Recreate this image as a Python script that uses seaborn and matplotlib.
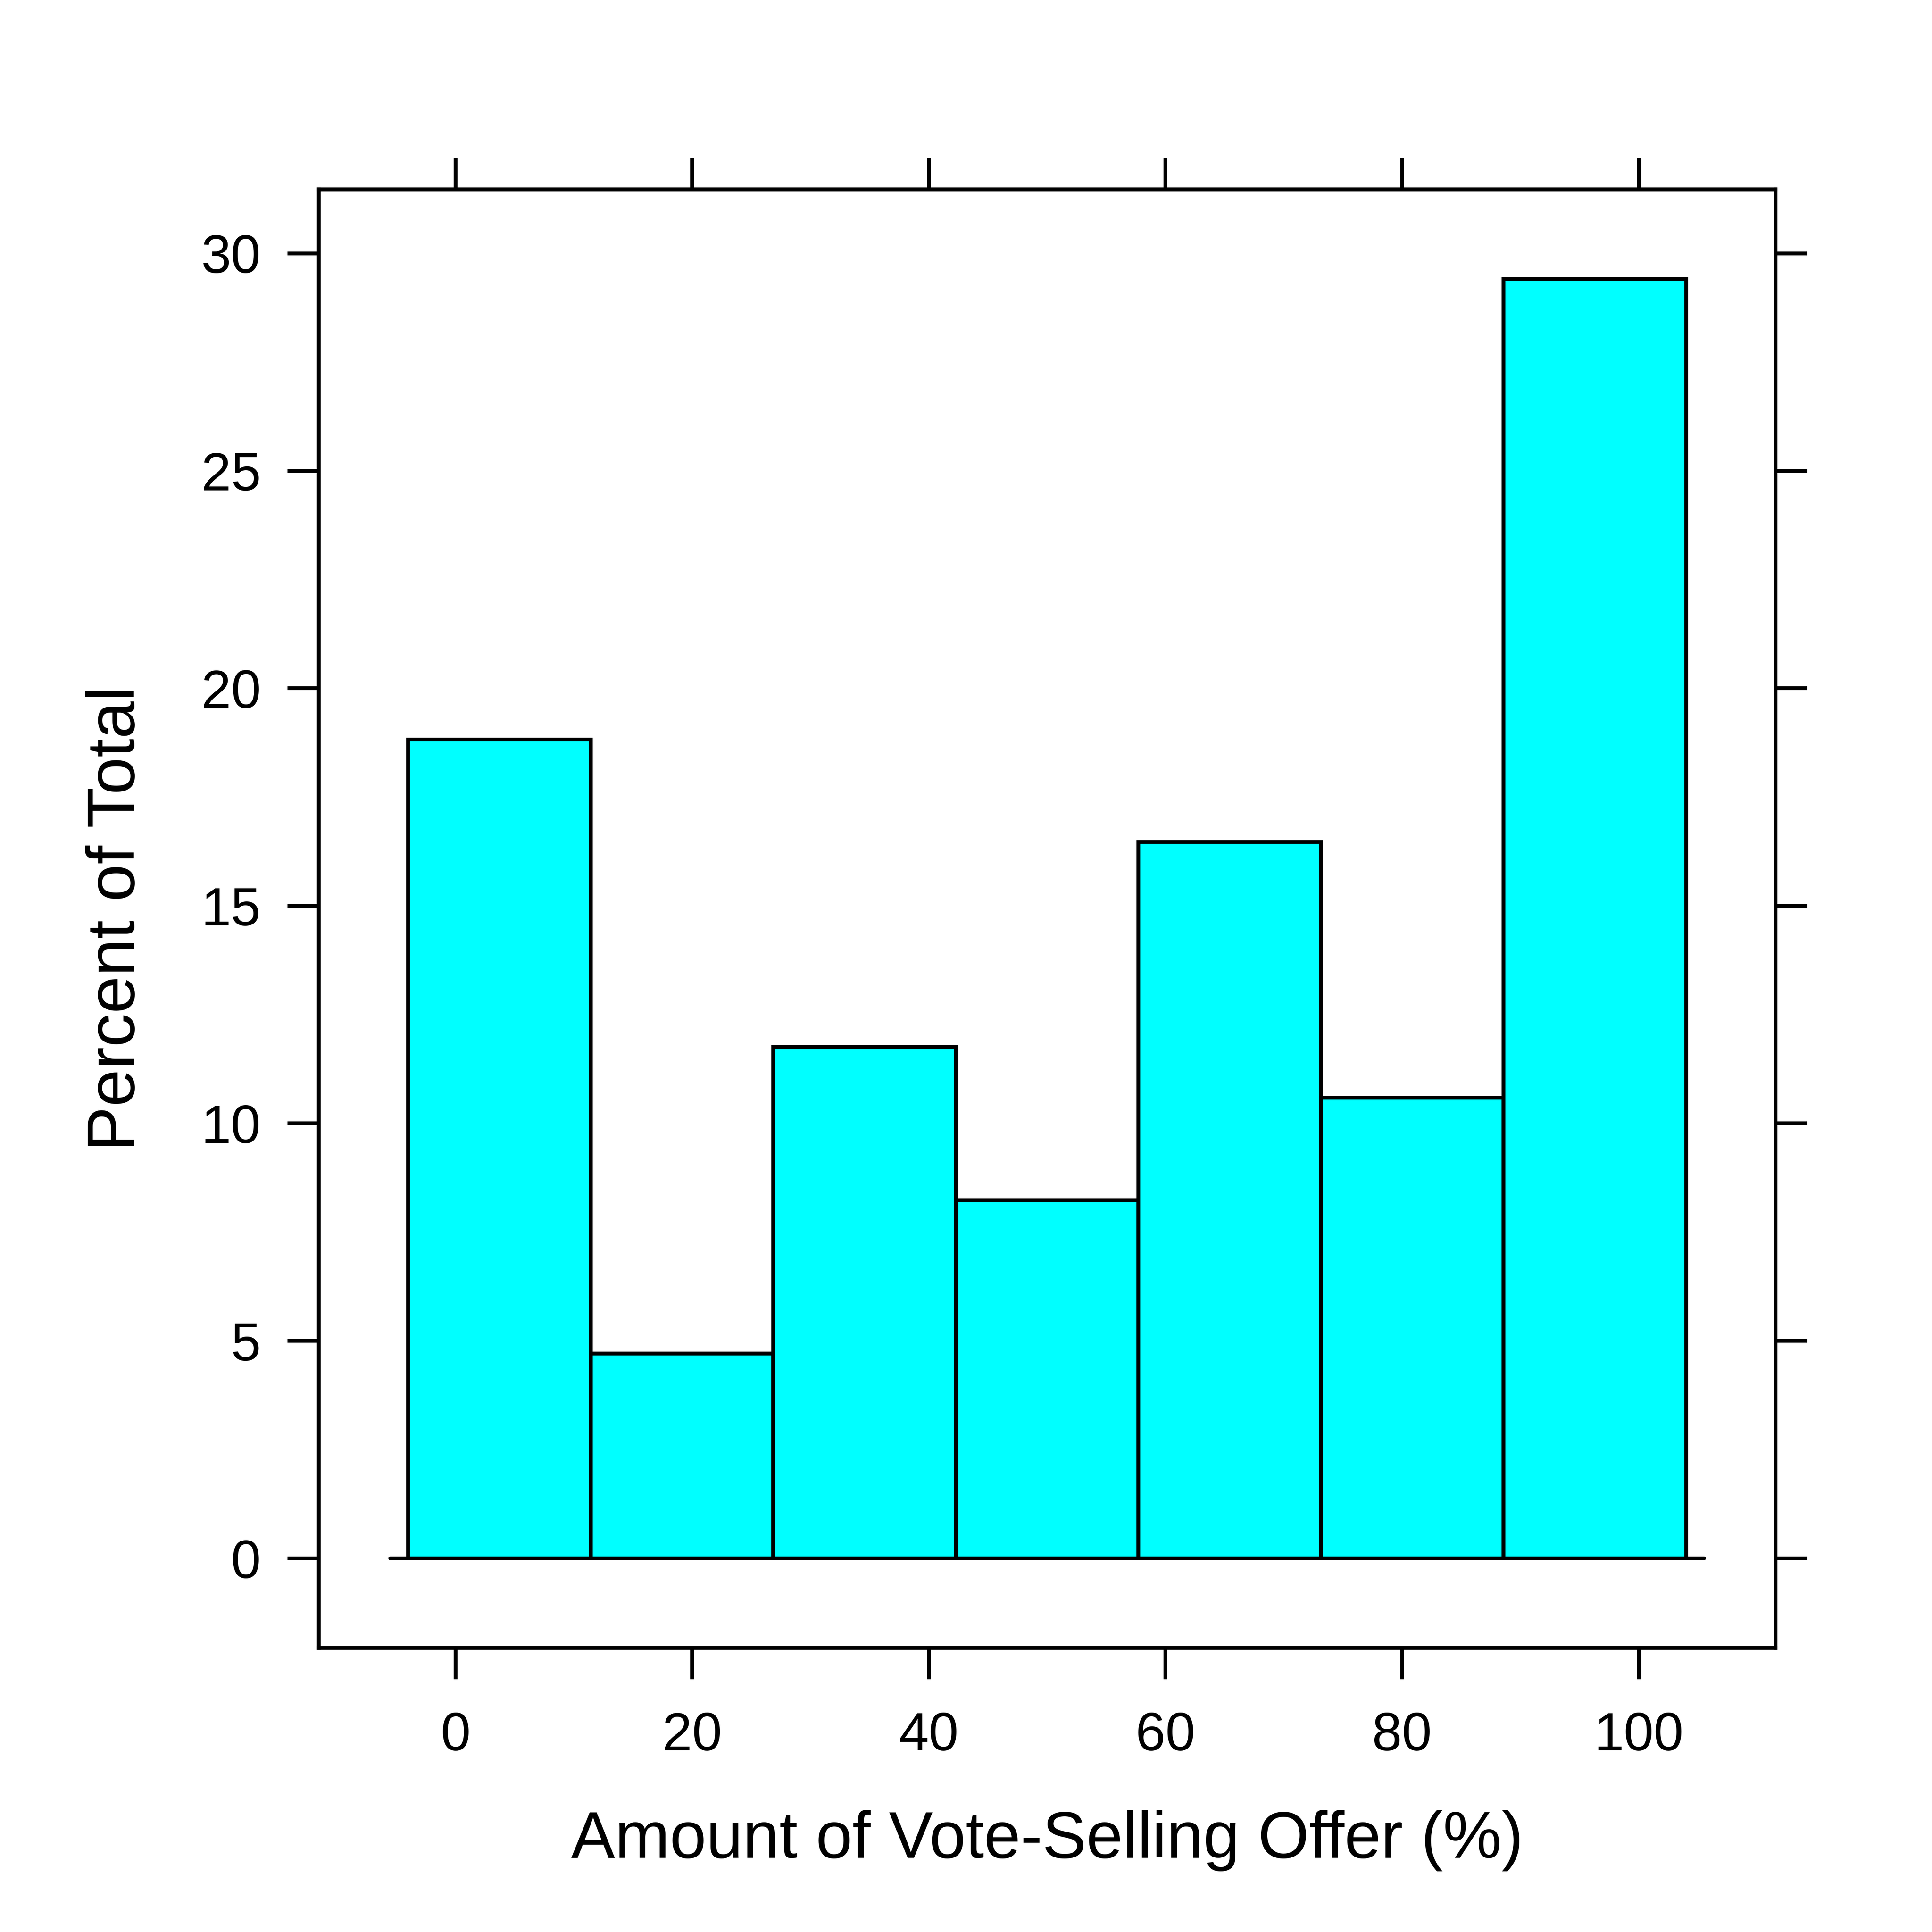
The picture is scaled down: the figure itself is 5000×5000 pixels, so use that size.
import numpy as np
import pandas as pd
import matplotlib
matplotlib.use("Agg")
import matplotlib.pyplot as plt
import seaborn as sns

# Histogram data (lattice-style histogram, 7 bins)
bin_mids = [3.71, 19.14, 34.57, 50.0, 65.43, 80.86, 96.29]
counts = [16, 4, 10, 7, 14, 9, 25]          # -> percent of total
bin_range = (-4, 104)
n_bins = 7

x_ticks = [0, 20, 40, 60, 80, 100]
y_ticks = [0, 5, 10, 15, 20, 25, 30]
x_label = "Amount of Vote-Selling Offer (%)"
y_label = "Percent of Total"

df = pd.DataFrame({"offer": bin_mids, "n": counts})

sns.set_style("white")
plt.rcParams["font.family"] = ["Liberation Sans", "DejaVu Sans"]

fig = plt.figure(figsize=(10, 10), dpi=500)
ax = fig.add_axes([0.165, 0.147, 0.754, 0.755])

lw = 1.4
sns.histplot(
    data=df, x="offer", weights="n", bins=n_bins, binrange=bin_range,
    stat="percent", color="#00FFFF", alpha=1, edgecolor="black",
    linewidth=lw, ax=ax,
)

# lattice-style padding of 7% on each side
span = bin_range[1] - bin_range[0]
ax.set_xlim(bin_range[0] - 0.07 * span, bin_range[1] + 0.07 * span)
ymax = max(p.get_height() for p in ax.patches)
ax.set_ylim(-0.07 * ymax, ymax * 1.07)

# baseline at zero
ax.axhline(0, xmin=0.049, xmax=0.951, color="black", lw=lw, zorder=3)

ax.set_xticks(x_ticks)
ax.set_yticks(y_ticks)
ax.tick_params(axis="both", which="both", direction="out", length=11.6,
               width=lw, color="black", labelsize=20, labelcolor="black",
               top=True, right=True, labeltop=False, labelright=False,
               bottom=True, left=True)
ax.tick_params(axis="x", pad=12)
ax.tick_params(axis="y", pad=10)

for s in ax.spines.values():
    s.set_visible(True)
    s.set_color("black")
    s.set_linewidth(lw)

ax.set_xlabel(x_label, fontsize=24.5, color="black")
ax.set_ylabel(y_label, fontsize=25, color="black")
ax.xaxis.set_label_coords(0.5, -0.111)
ax.yaxis.set_label_coords(-0.117, 0.5)

fig.savefig("out.png", dpi=500, facecolor="white")
